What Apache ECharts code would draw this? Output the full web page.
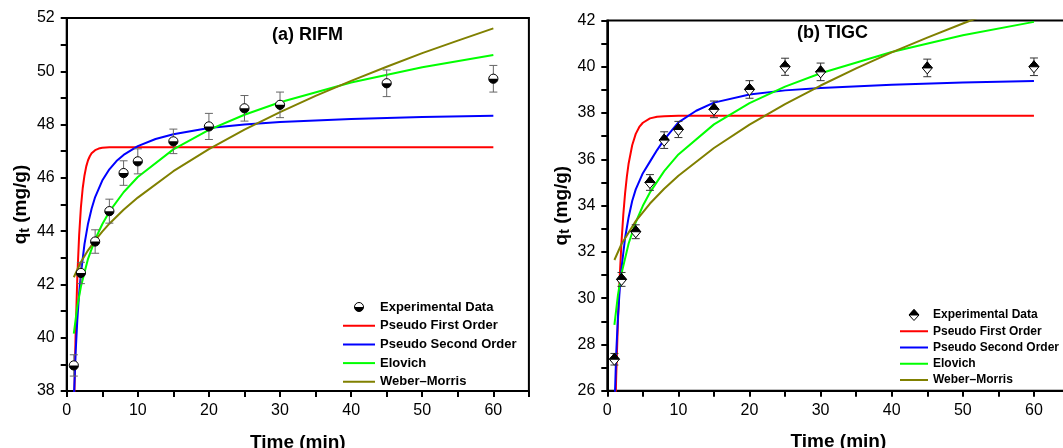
<!DOCTYPE html>
<html><head><meta charset="utf-8">
<script src="https://cdn.jsdelivr.net/npm/echarts/dist/echarts.min.js"></script>
<style>html,body{margin:0;padding:0;background:#fff}#c{width:1063px;height:448px}</style>
</head><body><div id="c"></div>
<script>
// ---------- (a) RIFM ----------
const timeA = [1, 2, 4, 6, 8, 10, 15, 20, 25, 30, 45, 60];
const qExpA = [38.96, 42.43, 43.61, 44.75, 46.18, 46.62, 47.37, 47.93, 48.61, 48.74, 49.55, 49.72];
const errA  = [0.40, 0.40, 0.44, 0.45, 0.46, 0.47, 0.46, 0.49, 0.48, 0.48, 0.50, 0.50];

const tPfoA = [1, 1.25, 1.5, 1.75, 2, 2.25, 2.5, 2.75, 3, 3.25, 3.5, 4, 4.5, 5, 6, 8, 60];
const qPfoA = [36.83, 40.10, 42.33, 43.85, 44.90, 45.61, 46.09, 46.43, 46.66, 46.81, 46.92, 47.04, 47.10, 47.13, 47.15, 47.15, 47.15];

const tPsoA = [1, 1.25, 1.5, 1.75, 2, 2.5, 3, 3.5, 4, 5, 6, 7, 8, 10, 12.5, 15, 20, 25, 30, 40, 50, 60];
const qPsoA = [37.65, 39.42, 40.70, 41.66, 42.41, 43.51, 44.28, 44.84, 45.28, 45.90, 46.32, 46.63, 46.86, 47.19, 47.46, 47.64, 47.87, 48.00, 48.10, 48.21, 48.28, 48.33];

const tEloA = [1, 1.5, 2, 3, 4, 5, 6, 8, 10, 15, 20, 25, 30, 40, 50, 60];
const qEloA = [40.15, 41.19, 41.92, 42.96, 43.69, 44.26, 44.73, 45.46, 46.03, 47.07, 47.80, 48.37, 48.84, 49.58, 50.15, 50.61];

const tWmA = [1, 2, 3, 4, 5, 6, 8, 10, 15, 20, 25, 30, 35, 40, 45, 50, 55, 60];
const qWmA = [42.27, 42.84, 43.28, 43.65, 43.98, 44.28, 44.80, 45.26, 46.25, 47.08, 47.81, 48.47, 49.08, 49.64, 50.17, 50.68, 51.15, 51.61];

// ---------- (b) TIGC ----------
const timeB = [1, 2, 4, 6, 8, 10, 15, 20, 25, 30, 45, 60];
const qExpB = [27.36, 30.81, 32.87, 35.00, 36.83, 37.29, 38.16, 39.02, 40.00, 39.78, 39.95, 40.00];
const errB  = [0.25, 0.30, 0.30, 0.34, 0.36, 0.35, 0.36, 0.38, 0.37, 0.38, 0.38, 0.38];

const tPfoB = [1, 1.25, 1.5, 1.75, 2, 2.25, 2.5, 2.75, 3, 3.5, 4, 4.5, 5, 6, 7, 8, 10, 60];
const qPfoB = [23.52, 26.61, 29.04, 30.94, 32.44, 33.61, 34.53, 35.25, 35.82, 36.61, 37.10, 37.40, 37.58, 37.77, 37.84, 37.86, 37.88, 37.88];

const tPsoB = [1.05, 1.25, 1.5, 1.75, 2, 2.5, 3, 3.5, 4, 5, 6, 7, 8, 10, 12.5, 15, 20, 25, 30, 40, 50, 60];
const qPsoB = [25.6, 27.6, 29.2, 30.4, 31.3, 32.6, 33.5, 34.2, 34.7, 35.4, 35.9, 36.4, 36.85, 37.6, 38.1, 38.45, 38.8, 38.98, 39.08, 39.22, 39.32, 39.39];

const tEloB = [1, 1.5, 2, 3, 4, 5, 6, 8, 10, 15, 20, 25, 30, 40, 50, 60];
const qEloB = [28.84, 30.14, 31.06, 32.36, 33.28, 33.99, 34.57, 35.49, 36.21, 37.51, 38.43, 39.14, 39.72, 40.64, 41.36, 41.94];

const tWmB = [1, 2, 4, 6, 8, 10, 15, 20, 25, 30, 35, 40, 45, 50, 55, 60];
const qWmB = [31.65, 32.34, 33.33, 34.09, 34.73, 35.29, 36.49, 37.50, 38.39, 39.19, 39.93, 40.62, 41.26, 41.87, 42.46, 43.01];

const seriesNames = ['Experimental Data', 'Pseudo First Order', 'Pseudo Second Order', 'Elovich', 'Weber\u2013Morris'];
const seriesColors = ['#000000', '#ff0000', '#0000ff', '#00ff00', '#808000'];
const xTicks = [0, 10, 20, 30, 40, 50, 60];

const FONT = 'Liberation Sans, Arial, sans-serif';
const zip = (a, b) => a.map((v, i) => [v, b[i]]);

function lineSeries(idx, k, t, q) {
  return {
    type: 'line', name: seriesNames[k], xAxisIndex: idx, yAxisIndex: idx,
    data: zip(t, q), showSymbol: false, symbol: 'none', smooth: false, clip: true,
    lineStyle: { color: seriesColors[k], width: 2 }, itemStyle: { color: seriesColors[k] },
    z: 3, silent: true
  };
}
function errSeries(idx, t, q, e, color) {
  return {
    type: 'custom', name: 'err' + idx, xAxisIndex: idx, yAxisIndex: idx, z: 4, silent: true,
    data: t.map((v, i) => [v, q[i] - e[i], q[i] + e[i]]),
    renderItem: (p, api) => {
      const lo = api.coord([api.value(0), api.value(1)]);
      const hi = api.coord([api.value(0), api.value(2)]);
      const w = 4;
      const st = { stroke: color, lineWidth: 1, fill: null };
      return { type: 'group', children: [
        { type: 'line', shape: { x1: lo[0], y1: lo[1], x2: hi[0], y2: hi[1] }, style: st },
        { type: 'line', shape: { x1: lo[0] - w, y1: lo[1], x2: lo[0] + w, y2: lo[1] }, style: st },
        { type: 'line', shape: { x1: hi[0] - w, y1: hi[1], x2: hi[0] + w, y2: hi[1] }, style: st }
      ]};
    }
  };
}
function markerSeries(idx, t, q, kind) {
  return {
    type: 'custom', name: seriesNames[0], xAxisIndex: idx, yAxisIndex: idx, z: 10, silent: true,
    itemStyle: { color: '#000' },
    data: zip(t, q),
    renderItem: (p, api) => {
      const c = api.coord([api.value(0), api.value(1)]);
      if (kind === 'circle') {
        const r = 4.6;
        return { type: 'group', children: [
          { type: 'circle', shape: { cx: c[0], cy: c[1], r: r }, style: { fill: '#fff', stroke: '#000', lineWidth: 1 } },
          { type: 'sector', shape: { cx: c[0], cy: c[1], r0: 0, r: r, startAngle: 0, endAngle: Math.PI, clockwise: true }, style: { fill: '#000' } }
        ]};
      }
      const hw = 5, hh = 6;
      return { type: 'group', children: [
        { type: 'polygon', shape: { points: [[c[0], c[1] - hh], [c[0] + hw, c[1]], [c[0], c[1] + hh], [c[0] - hw, c[1]]] }, style: { fill: '#fff', stroke: '#000', lineWidth: 1 } },
        { type: 'polygon', shape: { points: [[c[0] - hw, c[1]], [c[0], c[1] - hh], [c[0] + hw, c[1]]] }, style: { fill: '#000', stroke: '#000', lineWidth: 1 } }
      ]};
    }
  };
}

const svgCircle = w => '<svg xmlns="http://www.w3.org/2000/svg" width="' + w + '" height="12"><circle cx="' + (w / 2) + '" cy="6" r="4.5" fill="white" stroke="black" stroke-width="1"/><path d="M' + (w / 2 - 4.5) + ' 6 A4.5 4.5 0 0 0 ' + (w / 2 + 4.5) + ' 6 Z" fill="black"/></svg>';
const svgDiamond = w => '<svg xmlns="http://www.w3.org/2000/svg" width="' + w + '" height="12"><polygon points="' + (w / 2) + ',0.5 ' + (w / 2 + 5) + ',6 ' + (w / 2) + ',11.5 ' + (w / 2 - 5) + ',6" fill="white" stroke="black" stroke-width="1"/><polygon points="' + (w / 2 - 5) + ',6 ' + (w / 2) + ',0.5 ' + (w / 2 + 5) + ',6" fill="black" stroke="black" stroke-width="1"/></svg>';
const svgLine = (w, color) => '<svg xmlns="http://www.w3.org/2000/svg" width="' + w + '" height="12"><line x1="0" y1="6" x2="' + w + '" y2="6" stroke="' + color + '" stroke-width="2"/></svg>';
const img = s => 'image://data:image/svg+xml;charset=utf-8,' + encodeURIComponent(s);

function xAxis(idx, fs) {
  return {
    type: 'value', gridIndex: idx, min: 0, max: 65, interval: 5,
    name: 'Time (min)', nameLocation: 'middle', nameGap: 42,
    nameTextStyle: { fontFamily: FONT, fontSize: 19, fontWeight: 'bold', color: '#000' },
    axisLine: { show: true, onZero: false, lineStyle: { color: '#000', width: 2 } },
    axisTick: { show: true, inside: false, length: 6, lineStyle: { color: '#000', width: 2 } },
    axisLabel: { fontFamily: FONT, fontSize: fs, color: '#000', margin: 12,
      formatter: v => (xTicks.indexOf(v) >= 0 ? String(v) : '') },
    splitLine: { show: false }
  };
}
function yAxis(idx, min, max, fs) {
  return {
    type: 'value', gridIndex: idx, min: min, max: max, interval: 1,
    name: '{q|q}{t|t}{q| (mg/g)}', nameLocation: 'middle', nameGap: 35,
    nameTextStyle: { color: '#000', rich: {
      q: { fontFamily: FONT, fontSize: 19, fontWeight: 'bold', color: '#000' },
      t: { fontFamily: FONT, fontSize: 14, fontWeight: 'bold', color: '#000', verticalAlign: 'bottom', padding: [8, 0, 0, 0] }
    } },
    axisLine: { show: true, onZero: false, lineStyle: { color: '#000', width: 2 } },
    axisTick: { show: true, inside: false, length: 6, lineStyle: { color: '#000', width: 2 } },
    axisLabel: { fontFamily: FONT, fontSize: fs, color: '#000', margin: 12,
      formatter: v => ((v - min) % 2 === 0 ? String(v) : '') },
    splitLine: { show: false }
  };
}
function legend(left, top, iw, gap, fs, markerSvg) {
  return {
    orient: 'vertical', left: left, top: top, itemWidth: iw, itemHeight: 12, itemGap: gap,
    selectedMode: false, padding: 0,
    textStyle: { fontFamily: FONT, fontSize: fs, fontWeight: 'bold', color: '#000' },
    data: [
      { name: seriesNames[0], icon: img(markerSvg(iw)) },
      { name: seriesNames[1], icon: img(svgLine(iw, seriesColors[1])) },
      { name: seriesNames[2], icon: img(svgLine(iw, seriesColors[2])) },
      { name: seriesNames[3], icon: img(svgLine(iw, seriesColors[3])) },
      { name: seriesNames[4], icon: img(svgLine(iw, seriesColors[4])) }
    ]
  };
}

const option = {
  animation: false,
  backgroundColor: '#fff',
  grid: [
    { left: 66.7, top: 18, width: 462.2, height: 373, show: true, borderColor: '#000', borderWidth: 2, outerBoundsMode: 'none' },
    { left: 607.3, top: 20.5, width: 462.2, height: 370.2, show: true, borderColor: '#000', borderWidth: 2, outerBoundsMode: 'none' }
  ],
  xAxis: [xAxis(0, 16), xAxis(1, 16)],
  yAxis: [yAxis(0, 38, 52, 16), yAxis(1, 26, 42, 16)],
  legend: [
    legend(343, 300.5, 32, 5.7, 13, svgCircle),
    legend(900, 309, 28, 4.25, 12, svgDiamond)
  ],
  graphic: [
    { type: 'text', left: 309 - 37, top: 26, style: { text: '(a) RIFM', font: 'bold 18px ' + FONT, fill: '#000' } },
    { type: 'text', left: 834 - 37, top: 24, style: { text: '(b) TIGC', font: 'bold 18px ' + FONT, fill: '#000' } }
  ],
  series: [
    lineSeries(0, 1, tPfoA, qPfoA),
    lineSeries(0, 2, tPsoA, qPsoA),
    lineSeries(0, 3, tEloA, qEloA),
    lineSeries(0, 4, tWmA, qWmA),
    errSeries(0, timeA, qExpA, errA, '#666'),
    markerSeries(0, timeA, qExpA, 'circle'),
    lineSeries(1, 1, tPfoB, qPfoB),
    lineSeries(1, 2, tPsoB, qPsoB),
    lineSeries(1, 3, tEloB, qEloB),
    lineSeries(1, 4, tWmB, qWmB),
    errSeries(1, timeB, qExpB, errB, '#333'),
    markerSeries(1, timeB, qExpB, 'diamond')
  ]
};
const chart = echarts.init(document.getElementById('c'), null, { renderer: 'canvas' });
chart.setOption(option);
</script></body></html>
